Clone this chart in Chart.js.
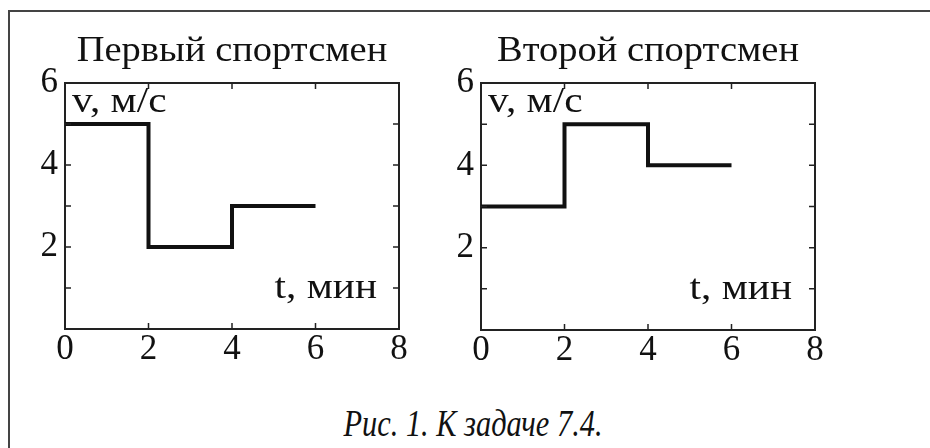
<!DOCTYPE html>
<html>
<head>
<meta charset="utf-8">
<script src="https://cdn.jsdelivr.net/npm/chart.js@4/dist/chart.umd.min.js"></script>
<style>
  body { margin: 0; background: #fff; width: 930px; height: 448px; overflow: hidden; position: relative; font-family: "Liberation Serif", serif; }
  .frame { position: absolute; left: 8px; top: 10px; width: 940px; height: 460px; border-top: 2px solid #444; border-left: 2px solid #444; }
  canvas { position: absolute; top: 0; }
  #c1 { left: 0; }
  #c2 { left: 440px; }
  .caption { position: absolute; left: 473px; top: 404px; line-height: 38px; font-size: 38px; font-style: italic; white-space: nowrap; transform: translateX(-50%) scaleX(0.8); color: #111; }
</style>
</head>
<body>
<div class="frame"></div>
<canvas id="c1" width="440" height="390"></canvas>
<canvas id="c2" width="490" height="390"></canvas>
<div class="caption">Рис. 1. К задаче 7.4.</div>
<script>
// --- Data ---
const times = [0, 2, 4, 6];            // мин
const speedFirst = [5, 2, 3, 3];       // м/с, value held from each time on
const speedSecond = [3, 5, 4, 4];
const xTicks = [0, 2, 4, 6, 8];
const yTicks = [2, 4, 6];
const titles = ['Первый спортсмен', 'Второй спортсмен'];
const yLabel = 'v, м/с';
const xLabel = 't, мин';

const INK = '#111';
const FONT = '"Liberation Serif", "Times New Roman", serif';

// text a bit wider than the plain font, like the scanned figure
function wideText(ctx, text, x, y, align, sx) {
  const w = ctx.measureText(text).width * sx;
  const left = align === 'center' ? x - w / 2 : align === 'right' ? x - w : x;
  ctx.save();
  ctx.translate(left, y);
  ctx.scale(sx, 1);
  ctx.textAlign = 'left';
  ctx.fillText(text, 0, 0);
  ctx.restore();
}

// box, inner ticks and texts drawn against the chart's own scales
const decor = {
  id: 'decor',
  afterDraw(chart, args, opts) {
    const { ctx, chartArea: a, scales: { x, y } } = chart;
    ctx.save();
    ctx.strokeStyle = '#222';
    ctx.lineWidth = 2;
    ctx.beginPath();
    ctx.moveTo(a.left, a.top); ctx.lineTo(a.right, a.top); ctx.lineTo(a.right, a.bottom);
    ctx.stroke();

    ctx.lineWidth = 1.5;
    ctx.beginPath();
    for (let v = x.min + 2; v < x.max; v += 2) {
      const px = x.getPixelForValue(v);
      ctx.moveTo(px, a.bottom); ctx.lineTo(px, a.bottom - 6);
      ctx.moveTo(px, a.top); ctx.lineTo(px, a.top + 6);
    }
    for (let v = y.min + 1; v < y.max; v += 1) {
      const py = y.getPixelForValue(v);
      ctx.moveTo(a.left, py); ctx.lineTo(a.left + 6, py);
      ctx.moveTo(a.right, py); ctx.lineTo(a.right - 6, py);
    }
    ctx.stroke();

    ctx.fillStyle = INK;
    ctx.textBaseline = 'alphabetic';
    ctx.font = '35px ' + FONT;
    wideText(ctx, opts.title, (a.left + a.right) / 2, a.top - 22, 'center', 1.1);
    wideText(ctx, yLabel, a.left + 7, a.top + 29, 'left', 1.18);
    wideText(ctx, xLabel, a.right - opts.xLabelGap, a.bottom - 31, 'right', 1.18);
    ctx.restore();
  }
};

function makeChart(id, title, speeds, area, xLabelGap) {
  const canvas = document.getElementById(id);
  return new Chart(canvas, {
    type: 'scatter',
    data: {
      datasets: [{
        data: times.map((t, i) => ({ x: t, y: speeds[i] })),
        showLine: true,
        stepped: 'before',
        borderColor: INK,
        borderWidth: 4,
        borderCapStyle: 'butt',
        borderJoinStyle: 'miter',
        pointRadius: 0
      }]
    },
    options: {
      responsive: false,
      animation: false,
      events: [],
      layout: { padding: { left: 0, top: area.top, right: canvas.width - area.right, bottom: 0 } },
      plugins: { legend: { display: false }, tooltip: { enabled: false }, decor: { title: title, xLabelGap: xLabelGap } },
      scales: {
        x: {
          type: 'linear', min: 0, max: 8,
          afterFit: s => { s.height = canvas.height - area.bottom; },
          afterBuildTicks: s => { s.ticks = xTicks.map(v => ({ value: v })); },
          grid: { display: true, drawOnChartArea: false, drawTicks: false },
          border: { display: true, color: '#222', width: 2 },
          ticks: { padding: 0, color: INK, font: { family: FONT, size: 35 }, maxRotation: 0 }
        },
        y: {
          type: 'linear', min: 0, max: 6,
          afterFit: s => { s.width = area.left; },
          afterBuildTicks: s => { s.ticks = yTicks.map(v => ({ value: v })); },
          grid: { display: true, drawOnChartArea: false, drawTicks: false },
          border: { display: true, color: '#222', width: 2 },
          ticks: { padding: 7, color: INK, font: { family: FONT, size: 35 } }
        }
      }
    },
    plugins: [decor]
  });
}

makeChart('c1', titles[0], speedFirst, { left: 65, right: 399, top: 83, bottom: 329 }, 22);
makeChart('c2', titles[1], speedSecond, { left: 41, right: 375, top: 83, bottom: 330 }, 23);
</script>
</body>
</html>
